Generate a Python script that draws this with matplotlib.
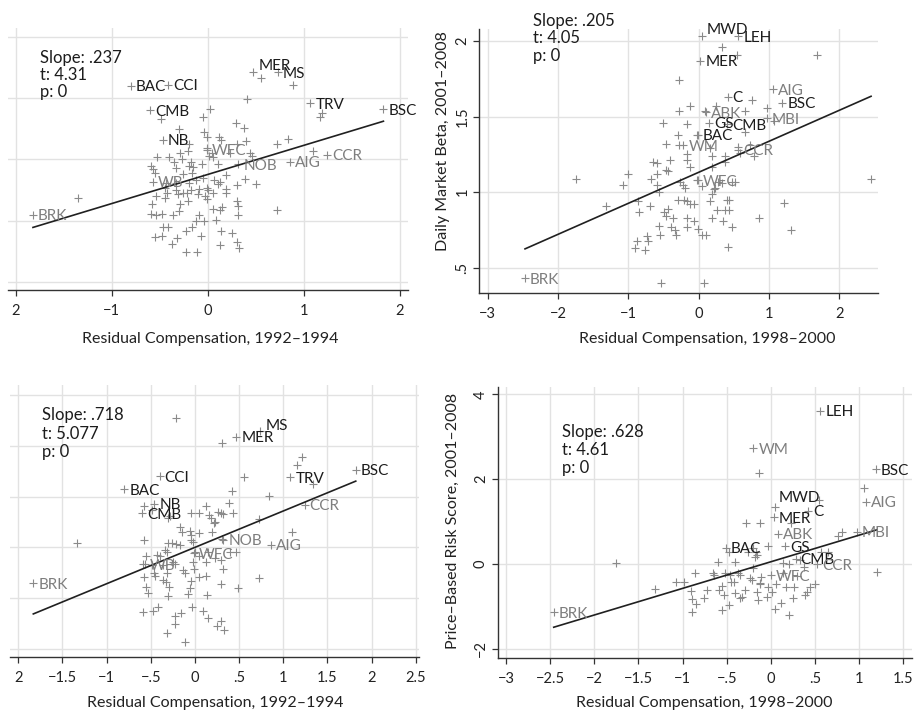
import matplotlib
matplotlib.use("Agg")
import matplotlib.pyplot as plt
import numpy as np

W, H = 915, 714
plt.rcParams['font.family'] = ['Lato', 'DejaVu Sans']

# ---------------- DATA ----------------
# Panel A (top-left): residual compensation 1992-1994 (y axis unlabeled)
TL_pts = [(-1.35,0.69),(0.02,1.41),(-0.05,1.35),(-0.49,1.33),(0.41,1.49),(0.56,1.66),(0.89,1.61),(1.17,1.35),(1.19,1.38),
          (-0.30,1.25),(0.29,1.30),(0.38,1.26),(-0.04,1.22),(-0.01,1.18),(0.12,1.18),(0.14,1.16),(-0.19,1.13),(0.40,1.15),
          (0.30,1.13),(0.72,1.13),(0.84,1.17),(-0.29,1.05),(-0.21,1.07),(-0.53,1.02),(-0.40,1.02),(-0.27,1.00),(-0.35,0.98),
          (0.01,1.03),(0.06,1.02),(0.23,1.05),(0.44,1.05),(0.46,1.03),(1.10,1.07),(-0.59,0.95),(-0.57,0.92),(-0.55,0.89),
          (-0.17,0.98),(-0.19,0.95),(-0.15,0.94),(-0.06,0.96),(0.11,0.96),(-0.33,0.93),(-0.26,0.88),(-0.16,0.89),(-0.05,0.85),
          (0.07,0.83),(0.13,0.82),(0.19,0.87),(0.39,0.84),(0.50,0.80),(-0.43,0.81),(-0.33,0.81),(-0.19,0.81),(-0.12,0.83),
          (0.11,0.80),(0.31,0.79),(-0.44,0.77),(-0.33,0.75),(-0.26,0.73),(-0.17,0.75),(-0.09,0.76),(-0.01,0.77),(0.00,0.75),
          (0.19,0.76),(0.19,0.73),(-0.54,0.70),(-0.45,0.69),(-0.42,0.73),(-0.31,0.72),(-0.22,0.73),(-0.10,0.72),(-0.03,0.70),
          (-0.01,0.68),(0.06,0.73),(-0.58,0.64),(-0.29,0.64),(-0.21,0.66),(0.30,0.66),(0.32,0.62),(0.06,0.60),(0.13,0.59),
          (0.15,0.61),(0.72,0.59),(-0.59,0.56),(-0.54,0.55),(-0.48,0.56),(-0.36,0.55),(-0.30,0.58),(-0.09,0.55),(0.32,0.55),
          (-0.12,0.50),(-0.04,0.50),(0.09,0.51),(-0.47,0.45),(-0.41,0.45),(-0.16,0.45),(-0.23,0.42),(0.14,0.42),(0.25,0.40),
          (-0.55,0.37),(-0.48,0.38),(-0.32,0.36),(-0.07,0.38),(-0.37,0.31),(0.13,0.30),(0.30,0.33),(0.33,0.28),(-0.23,0.25),
          (-0.11,0.25),(-0.01,1.09),(0.04,1.05)]
TL_names = ['BRK','BAC','CCI','CMB','NB','WB','WFC','NOB','AIG','CCR','MER','MS','TRV','BSC']
TL_lx = [-1.82,-0.80,-0.41,-0.60,-0.47,-0.57,-0.01,0.32,0.86,1.24,0.47,0.73,1.07,1.83]
TL_ly = [0.55,1.60,1.61,1.40,1.16,0.82,1.08,0.96,0.98,1.04,1.71,1.71,1.46,1.41]
TL_fit = (0.237, 0.878)
TL_stats = ['Slope: .237', 't: 4.31', 'p: 0']

# Panel B (top-right): Daily market beta 2001-2008 vs residual comp 1998-2000
TR_pts = [(-1.75,1.09),(-1.32,0.91),(-1.08,1.05),(-1.00,1.12),(-0.86,0.94),(-0.91,0.63),(-0.88,0.68),(-0.85,0.87),
          (-0.76,0.62),(-0.72,0.68),(-0.73,0.71),(-0.70,0.91),(-0.68,1.09),(-0.65,1.20),(-0.59,1.19),(-0.59,1.12),
          (-0.59,1.05),(-0.56,0.78),(-0.56,1.00),(-0.55,0.72),(-0.54,0.40),(-0.51,1.46),(-0.50,0.87),(-0.46,1.32),
          (-0.46,1.15),(-0.43,1.14),(-0.41,1.21),(-0.43,0.89),(-0.40,0.77),(-0.36,0.83),(-0.34,0.75),(-0.32,0.72),
          (-0.28,1.74),(-0.28,1.54),(-0.29,1.38),(-0.28,1.31),(-0.26,1.07),(-0.30,0.95),(-0.21,0.95),(-0.17,1.45),
          (-0.16,1.25),(-0.17,1.21),(-0.12,1.17),(-0.22,1.05),(-0.19,1.03),(-0.16,0.94),(-0.13,0.92),(-0.07,0.92),
          (-0.16,0.83),(-0.16,0.77),(-0.07,0.81),(-0.01,0.76),(-0.12,1.57),(-0.03,1.38),(-0.03,1.08),(0.04,1.04),
          (0.04,0.72),(0.11,0.72),(0.08,0.40),(0.24,1.57),(0.16,0.94),(0.19,0.99),(0.23,1.03),(0.19,0.83),(0.26,0.88),
          (0.35,0.81),(0.37,0.88),(0.43,0.88),(0.19,1.24),(0.19,1.17),(0.37,1.24),(0.37,1.20),(0.33,1.96),(0.54,1.91),
          (0.40,0.95),(0.43,0.95),(0.41,0.64),(0.48,0.77),(0.47,1.07),(0.52,1.07),(0.66,1.54),(0.76,1.61),(0.97,1.56),
          (0.66,1.40),(0.78,1.24),(0.86,0.83),(1.07,1.47),(1.21,0.93),(1.31,0.75),(1.68,1.91),(2.45,1.09),(0.16,1.29),
          (0.28,1.07),(0.33,1.06),(0.59,1.26),(0.73,1.31),(0.09,1.54),(0.21,1.02),(0.56,1.30),(-0.46,0.84)]
TR_names = ['MWD','LEH','MER','C','AIG','BSC','ABK','GS','CMB','MBI','BAC','WM','CCR','WFC','BRK']
TR_lx = [0.04,0.56,0.02,0.41,1.06,1.19,0.10,0.15,0.40,0.97,-0.01,-0.22,0.56,-0.01,-2.47]
TR_ly = [2.03,2.03,1.87,1.63,1.68,1.59,1.53,1.46,1.45,1.49,1.38,1.31,1.28,1.08,0.43]
TR_fit = (0.205, 1.132)
TR_stats = ['Slope: .205', 't: 4.05', 'p: 0']

# Panel C (bottom-left): residual compensation 1992-1994 (y axis unlabeled)
BL_pts = [(-0.21,4.55),(0.31,4.05),(1.21,3.78),(1.16,3.63),(0.56,3.38),(1.34,3.26),(0.42,3.11),(0.84,3.01),(-0.58,2.82),
          (-0.49,2.74),(-0.30,2.57),(-0.04,2.68),(0.05,2.68),(0.12,2.82),(0.16,2.64),(0.18,2.57),(0.23,2.51),(0.21,2.49),
          (0.26,2.70),(0.29,2.68),(0.32,2.66),(0.38,2.87),(0.43,2.67),(-0.28,2.61),(-0.17,2.41),(-0.15,2.31),(-0.06,2.33),
          (-0.04,2.24),(0.04,2.29),(0.19,2.31),(-0.58,2.15),(-0.30,2.09),(-0.26,2.09),(-0.21,2.06),(-0.17,2.05),(-0.05,2.15),
          (-0.02,2.11),(0.31,2.16),(-0.34,1.95),(-0.32,1.90),(-0.55,1.83),(-0.43,1.85),(-0.40,1.82),(0.00,1.90),(0.15,1.90),
          (0.40,1.91),(0.46,1.91),(0.72,2.55),(1.10,2.30),(-0.59,1.68),(-0.49,1.65),(-0.36,1.65),(-0.25,1.72),(-0.23,1.68),
          (-0.02,1.72),(0.13,1.72),(0.30,1.75),(-0.46,1.49),(-0.32,1.50),(-0.13,1.55),(-0.11,1.49),(-0.01,1.57),(0.32,1.57),
          (-0.58,1.41),(-0.45,1.43),(-0.36,1.36),(-0.33,1.32),(-0.05,1.34),(0.05,1.42),(0.13,1.43),(-0.55,1.22),(-0.29,1.21),
          (-0.06,1.19),(0.30,1.27),(0.49,1.20),(0.72,1.39),(-0.53,1.09),(-0.30,1.03),(-0.08,1.07),(0.14,1.06),(-0.59,0.72),
          (-0.48,0.75),(-0.42,0.82),(-0.16,0.70),(-0.23,0.64),(-0.03,0.83),(0.09,0.75),(0.15,0.61),(-0.23,0.49),(0.25,0.45),
          (0.30,0.55),(0.33,0.36),(-0.32,0.30),(-0.11,0.13),(-1.34,2.09),(0.04,1.82),(0.23,1.78)]
BL_names = ['BRK','BAC','CCI','NB','CMB','WB','WFC','NOB','AIG','CCR','MER','MS','TRV','BSC']
BL_lx = [-1.83,-0.80,-0.40,-0.46,-0.60,-0.57,-0.01,0.32,0.86,1.24,0.47,0.74,1.08,1.82]
BL_ly = [1.29,3.15,3.40,2.86,2.67,1.67,1.88,2.15,2.05,2.84,4.18,4.30,3.38,3.53]
BL_fit = (0.718, 2.00)
BL_stats = ['Slope: .718', 't: 5.077', 'p: 0']

# Panel D (bottom-right): price-based risk score 2001-2008 vs residual comp 1998-2000
BR_pts = [(-1.75,0.02),(-1.31,-0.58),(-1.08,-0.43),(-0.99,-0.42),(-0.91,-0.64),(-0.89,-0.83),(-0.89,-1.12),(-0.86,-0.22),
          (-0.85,-0.93),(-0.76,-0.79),(-0.73,-0.61),(-0.66,-0.22),(-0.65,-0.26),(-0.60,0.06),(-0.59,-0.61),(-0.56,-1.08),
          (-0.55,-0.52),(-0.53,-0.73),(-0.52,-0.22),(-0.48,-0.97),(-0.48,0.29),(-0.46,-0.26),(-0.45,-0.42),(-0.42,-0.42),
          (-0.41,0.06),(-0.37,-0.22),(-0.35,-0.26),(-0.35,-0.79),(-0.33,-0.77),(-0.29,-0.61),(-0.28,0.97),(-0.26,0.29),
          (-0.24,-0.34),(-0.22,-0.38),(-0.20,-0.10),(-0.18,0.17),(-0.17,0.29),(-0.16,-0.65),(-0.15,-0.85),(-0.13,-0.44),
          (-0.13,0.96),(-0.14,2.14),(-0.12,-0.46),(-0.11,-0.30),(-0.05,-0.77),(-0.03,0.42),(-0.03,-0.53),(0.01,-0.65),
          (0.05,-1.05),(0.06,-0.46),(0.11,-0.91),(0.14,0.02),(0.17,-0.53),(0.20,-1.20),(0.20,0.00),(0.23,0.96),(0.25,-0.79),
          (0.26,-0.53),(0.33,0.09),(0.37,-0.06),(0.39,-0.73),(0.41,-0.65),(0.44,-0.53),(0.50,-0.47),(0.54,1.52),(0.57,0.29),
          (0.65,0.29),(0.76,0.66),(0.80,0.76),(1.05,1.80),(1.20,-0.18),(-0.20,0.37),(-0.16,0.21),(0.14,-0.22),(0.30,-0.28),
          (-0.41,-0.69)]
BR_names = ['LEH','WM','BSC','AIG','MWD','C','MER','ABK','MBI','BAC','GS','CMB','CCR','WFC','BRK']
BR_lx = [0.56,-0.20,1.19,1.08,0.05,0.42,0.03,0.08,0.97,-0.51,0.16,0.28,0.52,0.00,-2.46]
BR_ly = [3.61,2.73,2.23,1.47,1.35,1.26,1.10,0.72,0.76,0.39,0.42,0.13,0.00,-0.26,-1.14]
BR_fit = (0.628, 0.055)
BR_stats = ['Slope: .628', 't: 4.61', 'p: 0']

DARK_A = {'BAC','CCI','CMB','NB','MER','MS','TRV','BSC'}
DARK_B = {'MWD','LEH','MER','C','BSC','GS','CMB','BAC'}

XLABEL_A = 'Residual Compensation, 1992\u20131994'
XLABEL_B = 'Residual Compensation, 1998\u20132000'
YLABEL_B = 'Daily Market Beta, 2001\u20132008'
YLABEL_D = 'Price\u2013Based Risk Score, 2001\u20132008'

TL_xticks = [-2, -1, 0, 1, 2]
TL_xticklabels = ['2', '\u22121', '0', '1', '2']
TL_yticks = [0, 0.5, 1, 1.5, 2]
TR_xticks = [-3, -2, -1, 0, 1, 2]
TR_xticklabels = ['\u22123', '\u22122', '\u22121', '0', '1', '2']
TR_yticks = [0.5, 1, 1.5, 2]
TR_yticklabels = ['.5', '1', '1.5', '2']
BL_xticks = [-2, -1.5, -1, -0.5, 0, 0.5, 1, 1.5, 2, 2.5]
BL_xticklabels = ['2', '\u22121.5', '\u22121', '\u2212.5', '0', '.5', '1', '1.5', '2', '2.5']
BL_yticks = [0, 1, 2, 3, 4, 5]
BR_xticks = [-3, -2.5, -2, -1.5, -1, -0.5, 0, 0.5, 1, 1.5]
BR_xticklabels = ['\u22123', '\u22122.5', '\u22122', '\u22121.5', '\u22121', '\u2212.5', '0', '.5', '1', '1.5']
BR_yticks = [-2, 0, 2, 4]
BR_yticklabels = ['\u22122', '0', '2', '4']

# ---------------- STYLE ----------------
MARK_C = '#8a8a8a'
GRAY_T = '#7e7e7e'
DARK_T = '#1c1c1c'
GRID_C = '#e2e2e2'
AX_C = '#333333'
LAB_FS = 11
STAT_FS = 12
TICK_FS = 10.5
AXL_FS = 11.5

fig = plt.figure(figsize=(W / 100, H / 100), dpi=100)


def px_axes(l, t, r, b):
    return fig.add_axes([l / W, 1 - b / H, (r - l) / W, (b - t) / H])


def panel(box, xlim, ylim, pts, names, lx, ly, dark, fit, xticks, xtl, yticks, ytl,
          offsets, left_spine):
    ax = px_axes(*box)
    ax.set_xlim(*xlim)
    ax.set_ylim(*ylim)
    for s in ['top', 'right']:
        ax.spines[s].set_visible(False)
    ax.spines['left'].set_visible(left_spine)
    for s in ['left', 'bottom']:
        ax.spines[s].set_color(AX_C)
        ax.spines[s].set_linewidth(1.0)
    ax.set_xticks(xticks)
    ax.set_xticklabels(xtl)
    ax.set_yticks(yticks)
    if ytl is None:
        ax.set_yticklabels([])
        ax.tick_params(axis='y', length=0)
    else:
        ax.set_yticklabels(ytl)
        ax.tick_params(axis='y', labelrotation=90, length=4, width=0.9, color=AX_C,
                       labelsize=TICK_FS, pad=3, labelcolor='#222222')
        for t in ax.get_yticklabels():
            t.set_va('center')
    ax.tick_params(axis='x', length=4, width=0.9, color=AX_C, labelsize=TICK_FS,
                   pad=6, labelcolor='#222222')
    ax.grid(True, color=GRID_C, lw=1.0)
    ax.set_axisbelow(True)
    px = [p[0] for p in pts] + list(lx)
    py = [p[1] for p in pts] + list(ly)
    ax.plot(px, py, ls='none', marker='+', ms=5.5, mew=0.8, color=MARK_C, zorder=3)
    slope, icpt = fit
    xs = np.array([min(px), max(px)])
    ax.plot(xs, icpt + slope * xs, color='#202020', lw=1.2, zorder=4)
    for n, x, y in zip(names, lx, ly):
        dx, dy = offsets.get(n, (5, 0))
        ax.annotate(n, (x, y), xytext=(dx, dy - 5.5), textcoords='offset pixels',
                    ha='left', va='baseline', fontsize=LAB_FS,
                    color=DARK_T if n in dark else GRAY_T, zorder=5)
    return ax


def stats_text(lines, left, centers):
    for s, cy in zip(lines, centers):
        fig.text(left / W, 1 - (cy + 6) / H, s, fontsize=STAT_FS, color=DARK_T,
                 ha='left', va='baseline')


panel((8, 28, 408, 290), (-2.080, 2.086), (-0.063, 2.071), TL_pts, TL_names, TL_lx, TL_ly,
      DARK_A, TL_fit, TL_xticks, TL_xticklabels, TL_yticks, None, {'MER': (5.5, 7.5)}, False)
panel((479.3, 29.3, 878.3, 292.7), (-3.12, 2.553), (0.336, 2.077), TR_pts, TR_names, TR_lx, TR_ly,
      DARK_B, TR_fit, TR_xticks, TR_xticklabels, TR_yticks, TR_yticklabels, {'MWD': (5, 8)}, True)
panel((10, 385, 419, 657.3), (-2.094, 2.536), (-0.170, 5.204), BL_pts, BL_names, BL_lx, BL_ly,
      DARK_A, BL_fit, BL_xticks, BL_xticklabels, BL_yticks, None, {'MS': (5, 6)}, False)
panel((497.7, 386.7, 911.7, 657.7), (-3.094, 1.593), (-2.208, 4.182), BR_pts, BR_names, BR_lx, BR_ly,
      DARK_B, BR_fit, BR_xticks, BR_xticklabels, BR_yticks, BR_yticklabels, {'MWD': (3, 10)}, True)

stats_text(TL_stats, 40, [56.7, 74, 90.7])
stats_text(TR_stats, 532.7, [20, 37.3, 55])
stats_text(BL_stats, 41.7, [414, 432.7, 450.7])
stats_text(BR_stats, 561.7, [431, 449.3, 467.3])

fig.text(210 / W, 1 - 339 / H, XLABEL_A, fontsize=AXL_FS, ha='center', va='center', color='#222222')
fig.text(707 / W, 1 - 339 / H, XLABEL_B, fontsize=AXL_FS, ha='center', va='center', color='#222222')
fig.text(215 / W, 1 - 703 / H, XLABEL_A, fontsize=AXL_FS, ha='center', va='center', color='#222222')
fig.text(704 / W, 1 - 703 / H, XLABEL_B, fontsize=AXL_FS, ha='center', va='center', color='#222222')
fig.text(442.7 / W, 1 - 141 / H, YLABEL_B, fontsize=AXL_FS, ha='center', va='center',
         rotation=90, color='#222222')
fig.text(453.3 / W, 1 - 520.7 / H, YLABEL_D, fontsize=AXL_FS, ha='center', va='center',
         rotation=90, color='#222222')

fig.savefig('out.png', dpi=100)
